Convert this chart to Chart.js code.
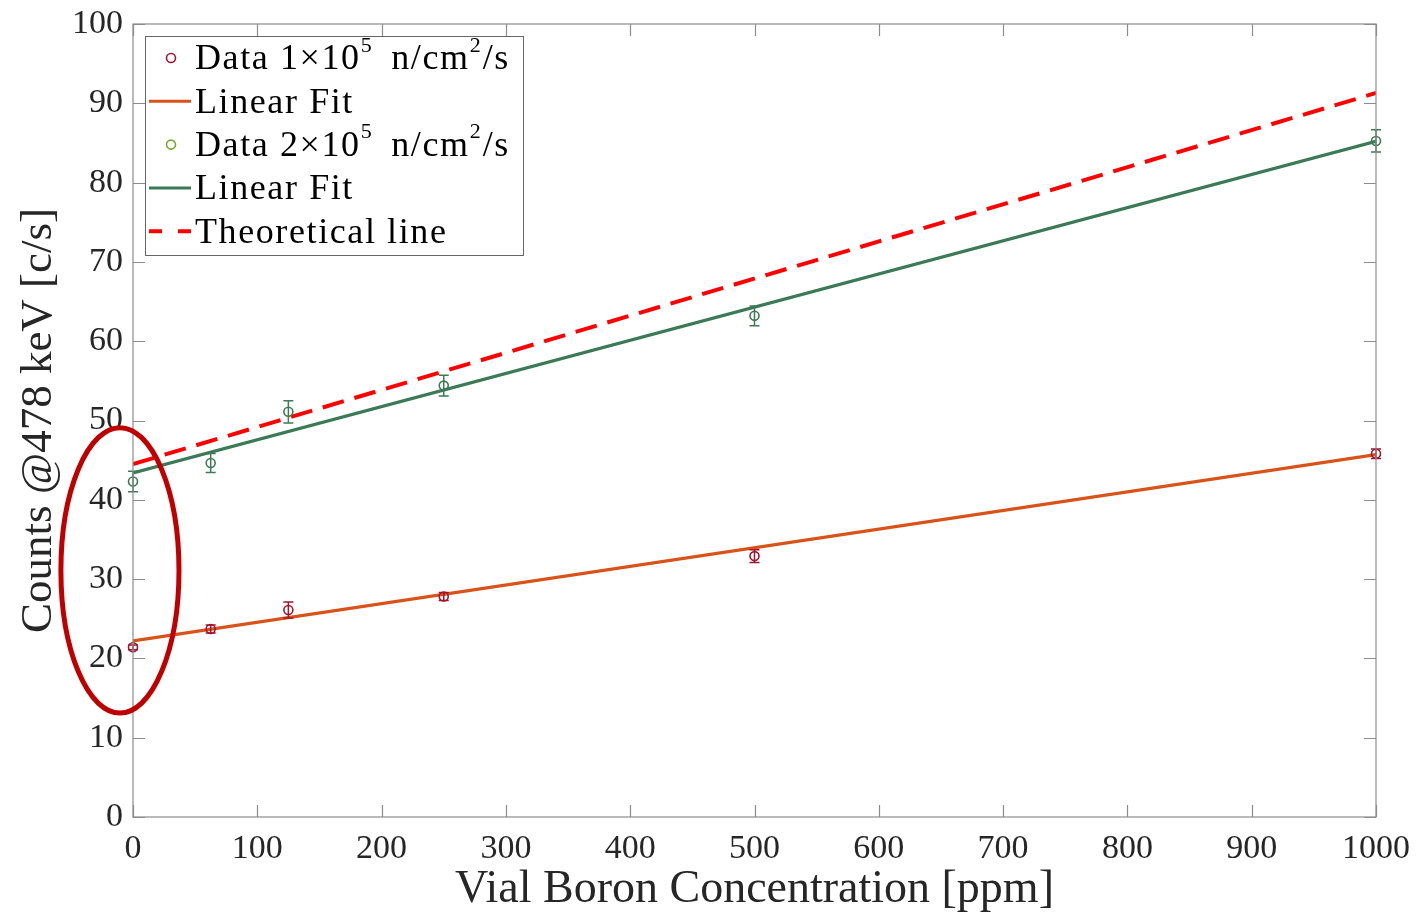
<!DOCTYPE html>
<html>
<head>
<meta charset="utf-8">
<script src="https://cdn.jsdelivr.net/npm/chart.js@4.4.1/dist/chart.umd.min.js"></script>
<style>
  html, body { margin: 0; padding: 0; background: #fff; }
  #wrap { width: 1426px; height: 918px; position: relative; }
</style>
</head>
<body>
<div id="wrap"><canvas id="boronChart"></canvas></div>
<script>
// concentrations (ppm) where vials were measured
const concentrations = [0, 62.5, 125, 250, 500, 1000];
// counts @478 keV, flux 1e5 n/cm2/s
const counts1 = [21.4, 23.7, 26.1, 27.8, 32.9, 45.8];
const err1 = [0.3, 0.5, 1.0, 0.5, 0.8, 0.6];
// counts @478 keV, flux 2e5 n/cm2/s
const counts2 = [42.3, 44.65, 51.1, 54.4, 63.2, 85.25];
const err2 = [1.3, 1.2, 1.4, 1.3, 1.25, 1.4];
// fitted / theoretical lines, value at 0 and 1000 ppm
const fitX = [0, 1000];
const fit1 = [22.2, 45.7];
const fit2 = [43.4, 85.2];
const theory = [44.5, 91.3];
// highlight ellipse (data units)
const highlight = { x: -10.5, y: 31.1, rx: 47.5, ry: 18.0 };

const xTicks = [0, 100, 200, 300, 400, 500, 600, 700, 800, 900, 1000];
const yTicks = [0, 10, 20, 30, 40, 50, 60, 70, 80, 90, 100];

const FONT = "'Liberation Serif', 'DejaVu Serif', serif";
const TXT = "#262626";
const AXIS = "#8c8c8c";

const toPoints = (xs, ys) => xs.map((x, i) => ({ x: x, y: ys[i] }));

// error bars for the two data series
const errorBars = {
    id: "errorBars",
    afterDatasetsDraw(chart) {
        const { ctx, scales: { x, y } } = chart;
        [[0, err1], [2, err2]].forEach(([idx, errs]) => {
            const ds = chart.data.datasets[idx];
            ctx.save();
            ctx.strokeStyle = ds.borderColor;
            ctx.lineWidth = 1.5;
            ds.data.forEach((p, i) => {
                const px = x.getPixelForValue(p.x);
                const top = y.getPixelForValue(p.y + errs[i]);
                const bot = y.getPixelForValue(p.y - errs[i]);
                ctx.beginPath();
                ctx.moveTo(px, top); ctx.lineTo(px, bot);
                ctx.moveTo(px - 5, top); ctx.lineTo(px + 5, top);
                ctx.moveTo(px - 5, bot); ctx.lineTo(px + 5, bot);
                ctx.stroke();
            });
            ctx.restore();
        });
    }
};

// box with inward ticks on all four sides
const boxTicks = {
    id: "boxTicks",
    afterDraw(chart) {
        const { ctx, chartArea: a, scales: { x, y } } = chart;
        ctx.save();
        ctx.strokeStyle = AXIS;
        ctx.lineWidth = 1.2;
        ctx.strokeRect(a.left, a.top, a.right - a.left, a.bottom - a.top);
        ctx.beginPath();
        xTicks.forEach(v => {
            const px = Math.round(x.getPixelForValue(v)) + 0.5;
            ctx.moveTo(px, a.bottom); ctx.lineTo(px, a.bottom - 12);
            ctx.moveTo(px, a.top); ctx.lineTo(px, a.top + 12);
        });
        yTicks.forEach(v => {
            const py = Math.round(y.getPixelForValue(v)) + 0.5;
            ctx.moveTo(a.left, py); ctx.lineTo(a.left + 12, py);
            ctx.moveTo(a.right, py); ctx.lineTo(a.right - 12, py);
        });
        ctx.stroke();
        ctx.restore();
    }
};

// red ellipse around the zero-concentration points
const ellipse = {
    id: "ellipse",
    afterDraw(chart) {
        const { ctx, scales: { x, y } } = chart;
        const cx = x.getPixelForValue(highlight.x);
        const cy = y.getPixelForValue(highlight.y);
        const rx = Math.abs(x.getPixelForValue(highlight.x + highlight.rx) - cx);
        const ry = Math.abs(y.getPixelForValue(highlight.y + highlight.ry) - cy);
        ctx.save();
        ctx.strokeStyle = "#c00000";
        ctx.lineWidth = 5;
        ctx.beginPath();
        ctx.ellipse(cx, cy, rx, ry, 0, 0, Math.PI * 2);
        ctx.stroke();
        ctx.restore();
    }
};

// MATLAB-like legend with superscripts
const legendBox = {
    id: "legendBox",
    afterDraw(chart) {
        const { ctx, chartArea: a } = chart;
        const left = a.left + 12, top = a.top + 12, w = 378, h = 219;
        ctx.save();
        ctx.fillStyle = "#fff";
        ctx.fillRect(left, top, w, h);
        ctx.strokeStyle = "#666";
        ctx.lineWidth = 1;
        ctx.strokeRect(left + 0.5, top + 0.5, w, h);

        // [text, superscript?, extra gap after]
        const rows = [
            { kind: "marker", color: "#a2142f", parts: [["Data 1×10"], ["5", 1, 8], [" n/cm"], ["2", 1, 1], ["/s"]] },
            { kind: "line", color: "#d95319", parts: [["Linear Fit"]] },
            { kind: "marker", color: "#77ac30", parts: [["Data 2×10"], ["5", 1, 8], [" n/cm"], ["2", 1, 1], ["/s"]] },
            { kind: "line", color: "#3b7a57", parts: [["Linear Fit"]] },
            { kind: "dash", color: "#ff0000", parts: [["Theoretical line"]] }
        ];
        rows.forEach((r, i) => {
            const cy = top + 22 + i * 43.3;
            ctx.strokeStyle = r.color;
            if (r.kind === "marker") {
                ctx.lineWidth = 1.6;
                ctx.beginPath();
                ctx.arc(left + 26, cy, 4.5, 0, Math.PI * 2);
                ctx.stroke();
            } else {
                ctx.lineWidth = r.kind === "dash" ? 4 : 3;
                ctx.setLineDash(r.kind === "dash" ? [13, 16] : []);
                ctx.beginPath();
                ctx.moveTo(left + 4, cy); ctx.lineTo(left + 46, cy);
                ctx.stroke();
                ctx.setLineDash([]);
            }
            let tx = left + 50;
            ctx.fillStyle = "#000";
            ctx.textBaseline = "middle";
            r.parts.forEach(([s, sup, gap]) => {
                ctx.font = sup ? `22px ${FONT}` : `36px ${FONT}`;
                ctx.letterSpacing = sup ? "1px" : "1.6px";
                ctx.fillText(s, tx, sup ? cy - 12 : cy + 2);
                tx += ctx.measureText(s).width + (gap || 0);
            });
        });
        ctx.restore();
    }
};

const ctx = document.getElementById("boronChart").getContext("2d");
new Chart(ctx, {
    type: "scatter",
    data: {
        datasets: [
            {
                label: "Data 1e5",
                data: toPoints(concentrations, counts1),
                borderColor: "#a2142f",
                backgroundColor: "rgba(0,0,0,0)",
                pointRadius: 4.5,
                borderWidth: 1.6,
                showLine: false,
                clip: false
            },
            {
                label: "Linear Fit",
                data: toPoints(fitX, fit1),
                borderColor: "#d95319",
                borderWidth: 3.2,
                pointRadius: 0,
                showLine: true
            },
            {
                label: "Data 2e5",
                data: toPoints(concentrations, counts2),
                borderColor: "#3d7a55",
                backgroundColor: "rgba(0,0,0,0)",
                pointRadius: 4.5,
                borderWidth: 1.6,
                showLine: false,
                clip: false
            },
            {
                label: "Linear Fit",
                data: toPoints(fitX, fit2),
                borderColor: "#3b7a57",
                borderWidth: 3.2,
                pointRadius: 0,
                showLine: true
            },
            {
                label: "Theoretical line",
                data: toPoints(fitX, theory),
                borderColor: "#ff0000",
                borderWidth: 4,
                borderDash: [22, 11],
                pointRadius: 0,
                showLine: true
            }
        ]
    },
    options: {
        responsive: true,
        maintainAspectRatio: false,
        animation: false,
        layout: { padding: { top: 24, right: 50, left: 0, bottom: 0 } },
        plugins: {
            legend: { display: false },
            tooltip: { enabled: false }
        },
        scales: {
            x: {
                type: "linear",
                min: 0,
                max: 1000,
                afterBuildTicks: s => { s.ticks = xTicks.map(v => ({ value: v })); },
                afterFit: s => { s.height = 101; },
                grid: { display: false, drawTicks: false },
                border: { display: false },
                ticks: { color: TXT, padding: 12, font: { family: FONT, size: 34 }, maxRotation: 0, callback: v => String(v) },
                title: { display: true, text: "Vial Boron Concentration [ppm]", color: TXT, padding: { top: 12, bottom: 0 }, font: { family: FONT, size: 46 } }
            },
            y: {
                min: 0,
                max: 100,
                afterBuildTicks: s => { s.ticks = yTicks.map(v => ({ value: v })); },
                afterFit: s => { s.width = 133; s.paddingTop = 0; s.paddingBottom = 0; },
                grid: { display: false, drawTicks: false },
                border: { display: false },
                ticks: { color: TXT, padding: 10, font: { family: FONT, size: 34 } },
                title: { display: true, text: "Counts @478 keV [c/s]", color: TXT, padding: { top: 12, bottom: 0 }, font: { family: FONT, size: 45 } }
            }
        }
    },
    plugins: [errorBars, boxTicks, ellipse, legendBox]
});
</script>
</body>
</html>
